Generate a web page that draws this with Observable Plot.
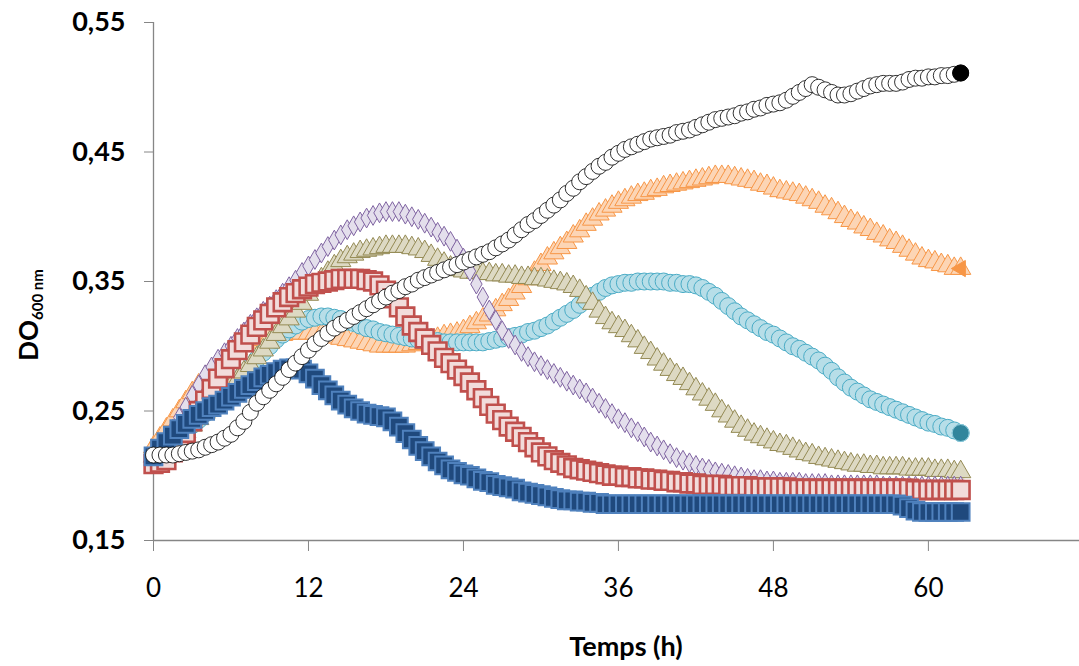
<!DOCTYPE html>
<html><head><meta charset="utf-8">
<script src="https://cdn.jsdelivr.net/npm/d3@7"></script>
<script src="https://cdn.jsdelivr.net/npm/@observablehq/plot@0.6"></script>
<style>
body{margin:0;background:#fff;}
#chart{width:1079px;height:666px;}
</style></head><body><div id="chart"></div>
<script>
// Time grid (h): one reading every half hour, 0 to 62.5
const hours = d3.range(0, 63, 0.5);

// DO600 values, one array per series (10 readings per row = 5 h)
const blackSeries = [
 .216,.216,.216,.216,.217,.218,.219,.220,.222,.224,
 .226,.229,.232,.237,.242,.249,.256,.261,.266,.271,
 .276,.282,.287,.292,.297,.302,.306,.310,.314,.317,
 .320,.323,.326,.329,.332,.335,.338,.341,.343,.346,
 .348,.351,.353,.355,.357,.359,.361,.363,.365,.367,
 .369,.371,.373,.376,.379,.382,.386,.390,.394,.397,
 .401,.405,.409,.413,.418,.422,.427,.431,.435,.439,
 .442,.446,.449,.452,.454,.456,.458,.460,.461,.462,
 .463,.465,.466,.467,.469,.471,.473,.475,.476,.477,
 .478,.480,.481,.483,.484,.486,.487,.488,.490,.493,
 .496,.499,.502,.500,.498,.496,.494,.494,.495,.497,
 .499,.501,.502,.503,.503,.503,.504,.506,.507,.507,
 .508,.508,.509,.509,.510,.511];
const orangeSeries = [
 .222,.229,.236,.243,.250,.257,.264,.270,.276,.282,
 .287,.291,.295,.298,.301,.303,.305,.307,.308,.309,
 .309,.310,.310,.310,.310,.310,.309,.308,.307,.306,
 .305,.304,.303,.302,.301,.300,.300,.300,.300,.300,
 .301,.302,.303,.305,.306,.308,.309,.310,.312,.315,
 .318,.321,.324,.328,.332,.336,.341,.346,.352,.357,
 .363,.368,.372,.376,.380,.385,.389,.394,.398,.402,
 .405,.408,.411,.413,.415,.417,.418,.420,.421,.423,
 .424,.425,.426,.427,.428,.429,.430,.431,.431,.431,
 .430,.429,.428,.427,.425,.424,.422,.420,.419,.418,
 .417,.415,.413,.411,.408,.406,.403,.400,.397,.395,
 .392,.390,.387,.385,.382,.380,.377,.374,.371,.368,
 .366,.365,.363,.362,.360,.360];
const cyanSeries = [
 .215,.218,.222,.226,.230,.234,.239,.243,.248,.253,
 .258,.263,.268,.273,.279,.284,.290,.295,.300,.305,
 .309,.313,.316,.319,.321,.322,.323,.323,.322,.321,
 .319,.318,.316,.314,.313,.311,.310,.309,.308,.307,
 .306,.305,.305,.304,.304,.303,.303,.303,.303,.303,
 .303,.303,.304,.305,.306,.307,.308,.309,.311,.312,
 .314,.316,.319,.322,.325,.328,.332,.335,.339,.342,
 .345,.347,.348,.349,.349,.350,.350,.350,.350,.350,
 .349,.349,.348,.348,.347,.345,.342,.339,.335,.331,
 .327,.323,.320,.317,.314,.311,.309,.306,.303,.300,
 .298,.295,.292,.289,.285,.281,.276,.272,.268,.265,
 .262,.259,.257,.255,.253,.251,.249,.247,.245,.243,
 .241,.240,.238,.237,.235,.233];
const khakiSeries = [
 .215,.218,.222,.226,.230,.234,.239,.244,.249,.254,
 .259,.264,.269,.274,.280,.285,.291,.297,.303,.309,
 .315,.321,.327,.333,.340,.346,.352,.357,.362,.366,
 .369,.371,.373,.374,.375,.376,.377,.377,.377,.377,
 .376,.375,.373,.370,.367,.364,.361,.359,.358,.357,
 .357,.356,.356,.355,.355,.354,.354,.353,.353,.352,
 .352,.351,.350,.349,.348,.346,.343,.338,.333,.327,
 .322,.318,.315,.312,.308,.304,.299,.295,.290,.286,
 .282,.278,.275,.271,.267,.263,.259,.255,.250,.246,
 .242,.238,.235,.232,.230,.228,.226,.224,.223,.221,
 .219,.217,.216,.214,.213,.212,.211,.210,.209,.208,
 .208,.207,.207,.206,.206,.206,.206,.205,.205,.205,
 .205,.204,.204,.204,.203,.203];
const purpleSeries = [
 .215,.221,.228,.236,.245,.253,.262,.270,.278,.284,
 .290,.295,.300,.306,.311,.317,.322,.327,.331,.336,
 .341,.346,.351,.357,.362,.367,.372,.377,.382,.386,
 .390,.393,.396,.399,.401,.403,.404,.404,.404,.402,
 .400,.398,.395,.392,.388,.385,.381,.375,.368,.358,
 .348,.338,.328,.320,.312,.306,.301,.296,.292,.288,
 .285,.282,.279,.276,.273,.270,.267,.264,.260,.256,
 .252,.248,.244,.241,.237,.234,.230,.226,.223,.220,
 .217,.214,.212,.210,.208,.206,.205,.203,.202,.201,
 .200,.199,.198,.197,.197,.196,.196,.195,.195,.195,
 .195,.194,.194,.194,.194,.193,.193,.193,.193,.193,
 .193,.193,.193,.192,.192,.192,.192,.192,.192,.192,
 .192,.192,.192,.192,.192,.192];
const redSeries = [
 .209,.210,.212,.218,.225,.233,.242,.250,.258,.267,
 .275,.283,.290,.297,.303,.309,.315,.320,.325,.330,
 .334,.338,.341,.344,.346,.348,.349,.350,.351,.352,
 .352,.352,.352,.351,.350,.347,.343,.337,.330,.323,
 .316,.311,.306,.301,.296,.291,.287,.282,.277,.272,
 .266,.260,.254,.248,.243,.238,.234,.230,.226,.222,
 .218,.215,.212,.210,.208,.206,.205,.204,.203,.202,
 .201,.200,.200,.199,.199,.198,.198,.197,.197,.196,
 .196,.195,.195,.194,.194,.193,.193,.193,.193,.192,
 .192,.192,.192,.191,.191,.191,.191,.191,.191,.190,
 .190,.190,.190,.190,.190,.190,.190,.190,.190,.190,
 .190,.190,.190,.190,.190,.190,.190,.190,.189,.189,
 .189,.189,.189,.189,.189,.189];
const blueSeries = [
 .215,.221,.226,.231,.236,.240,.244,.247,.250,.253,
 .255,.258,.261,.264,.267,.270,.273,.276,.278,.280,
 .282,.283,.283,.282,.279,.275,.270,.266,.262,.258,
 .255,.252,.250,.248,.247,.246,.245,.242,.238,.233,
 .228,.223,.219,.215,.211,.208,.205,.203,.201,.200,
 .198,.196,.195,.193,.192,.191,.190,.188,.187,.186,
 .185,.184,.183,.182,.181,.181,.180,.180,.179,.179,
 .178,.178,.178,.178,.178,.178,.178,.178,.178,.178,
 .178,.178,.178,.178,.178,.178,.178,.178,.178,.178,
 .178,.178,.178,.178,.178,.178,.178,.178,.178,.178,
 .178,.178,.178,.178,.178,.178,.178,.178,.178,.178,
 .178,.178,.178,.178,.178,.178,.177,.175,.173,.172,
 .172,.172,.172,.172,.172,.172];

const yTicks = [0.15, 0.25, 0.35, 0.45, 0.55];
const xTicks = [0, 12, 24, 36, 48, 60];
const xTitle = "Temps (h)";
const yTitleMain = "DO";
const yTitleSub = "600 nm";

const rows = vals => vals.map((v, i) => ({t: hours[i], v}));
const lastRow = vals => [{t: hours[vals.length - 1], v: vals[vals.length - 1]}];

// drawing order: bottom to top
const series = [
  {values: orangeSeries, symbol: "triangle", r: 7.5, fill: "#fcd5b5", stroke: "#f79646", sw: 1, last: {fill: "#f79646", stroke: "#f79646", rotate: -90, symbol: "triangle", r: 6}},
  {values: cyanSeries,   symbol: "circle",   r: 8.5, fill: "#b7dee8", stroke: "#4bacc6", sw: 1, last: {fill: "#31859c", stroke: "#93cddd", symbol: "circle", r: 8.5}},
  {values: khakiSeries,  symbol: "triangle", r: 7.5, fill: "#ddd9c3", stroke: "#948a54", sw: 1},
  {values: purpleSeries, symbol: "diamond",  r: 6,   fill: "#e4dfec", stroke: "#8064a2", sw: 1},
  {values: redSeries,    symbol: "square",   r: 10,  fill: "#f2dcdb", stroke: "#c0504d", sw: 2.6},
  {values: blueSeries,   symbol: "square",   r: 10,  fill: "#1f497d", stroke: "#4f81bd", sw: 2},
  {values: blackSeries,  symbol: "circle",   r: 8,   fill: "#ffffff", stroke: "#000000", sw: 0.8, last: {fill: "#000000", stroke: "#000000", symbol: "circle", r: 8}}
];

const fmt = d => d.toFixed(2).replace(".", ",");

const marks = [
  Plot.ruleY([0.15], {stroke: "#868686", strokeWidth: 1.3}),
  Plot.ruleX([0], {y1: 0.15, y2: 0.55, stroke: "#868686", strokeWidth: 1.3}),
  Plot.axisY({ticks: yTicks, tickFormat: fmt, tickSize: 9, tickPadding: 19, fontSize: 27, fontWeight: "bold", stroke: "#868686", fill: "#000", label: null}),
  Plot.axisX({ticks: xTicks, tickFormat: d => String(d), tickSize: 11, tickPadding: 27, fontSize: 26, stroke: "#868686", fill: "#000", label: null})
];
for (const s of series) {
  marks.push(Plot.dot(rows(s.values), {x: "t", y: "v", symbol: s.symbol, r: s.r, fill: s.fill, stroke: s.stroke, strokeWidth: s.sw}));
  if (s.last) {
    marks.push(Plot.dot(lastRow(s.values), {x: "t", y: "v", symbol: s.last.symbol, r: s.last.r, fill: s.last.fill, stroke: s.last.stroke, strokeWidth: 1, rotate: s.last.rotate || 0}));
  }
}

const plot = Plot.plot({
  width: 1079, height: 666,
  marginLeft: 153, marginRight: 0, marginTop: 22, marginBottom: 126,
  x: {domain: [0, 71.7]},
  y: {domain: [0.15, 0.55]},
  style: {fontFamily: "Lato, 'Open Sans', sans-serif", background: "#fff", color: "#000"},
  marks
});
document.getElementById("chart").appendChild(plot);

const svg = d3.select(plot);
svg.append("text")
  .attr("x", 626).attr("y", 656)
  .attr("text-anchor", "middle")
  .attr("font-family", "Lato, 'Open Sans', sans-serif")
  .attr("font-weight", "bold").attr("font-size", 27).attr("fill", "#000")
  .text(xTitle);
const yl = svg.append("text")
  .attr("transform", "translate(38,315) rotate(-90)")
  .attr("text-anchor", "middle")
  .attr("font-family", "Lato, 'Open Sans', sans-serif")
  .attr("font-weight", "bold").attr("fill", "#000");
yl.append("tspan").attr("font-size", 26).text(yTitleMain);
yl.append("tspan").attr("font-size", 15).attr("dy", 5).text(yTitleSub);
</script></body></html>
